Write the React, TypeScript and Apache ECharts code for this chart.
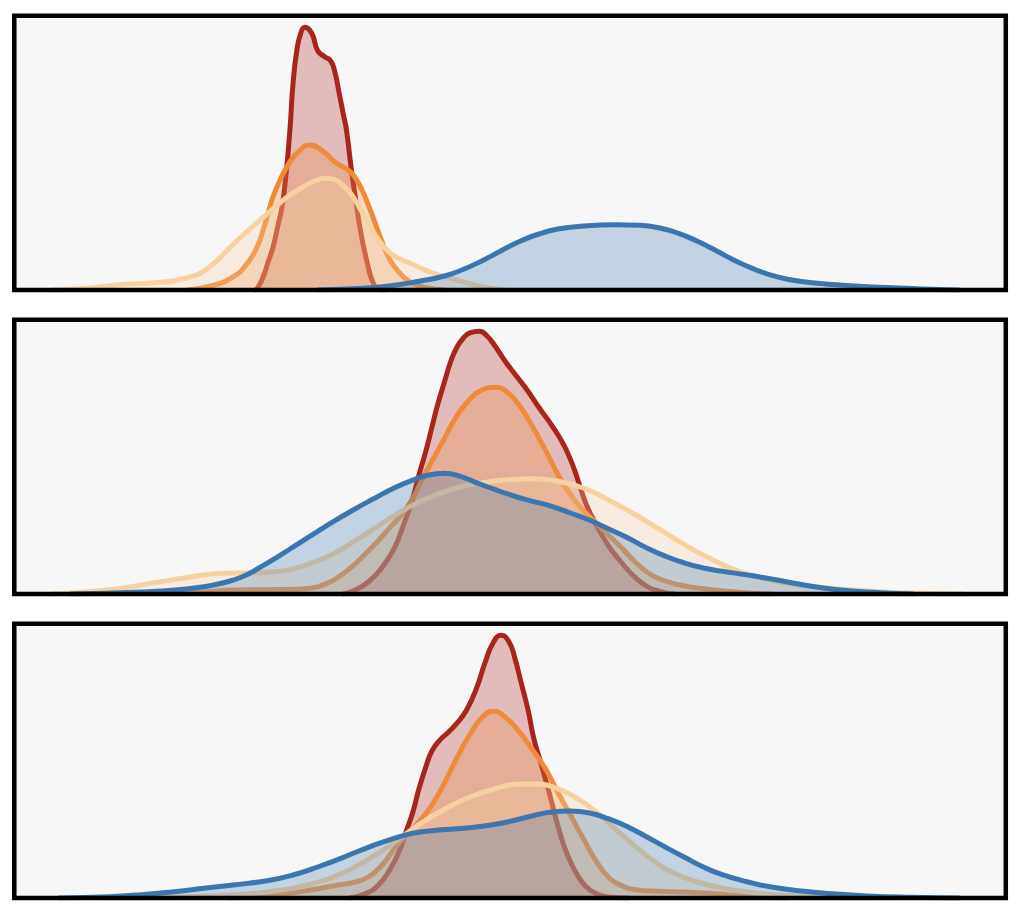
import React, { useEffect, useRef } from "react";
import * as echarts from "echarts";

// x: position along the shared axis (0–100); y: density height
const p1Red = [[24.3,0],[24.6,3],[25.1,13],[25.6,28],[26.1,43],[26.6,65],[27.0,83],[27.4,115],[27.8,160],[28.1,205],[28.5,240],[28.9,257],[29.3,262.7],[30.0,256.7],[30.6,239.3],[31.3,233.3],[31.9,229.3],[32.3,219.3],[32.8,195],[33.2,175],[33.5,160],[34.0,120],[34.4,93],[34.9,60],[35.6,27],[36.2,7],[36.8,1],[37.3,0]];
const p1Orange = [[17.5,0],[19.8,4],[22.1,13.3],[23.5,26.7],[24.5,43.3],[25.1,60],[25.6,76.7],[26.1,93.3],[26.8,110],[27.7,126.7],[28.5,136.7],[29.8,145],[31.2,138.3],[32.5,126.7],[33.9,118.3],[34.9,103.3],[35.9,80],[36.9,53.3],[37.9,30],[38.9,16.7],[39.9,8.3],[41.5,2.5],[43.5,0]];
const p1Peach = [[3.8,0],[7.7,2],[10.8,5.5],[13.7,7],[15.9,9],[17.5,12.5],[18.8,17],[20.4,29],[21.8,43],[23.3,57],[24.8,70],[26.3,83],[27.8,95],[29.3,104],[30.5,110],[31.4,111.7],[32.4,110],[33.2,104],[33.9,97],[34.9,81],[35.9,63],[36.9,48],[37.9,37],[38.9,31],[39.9,27],[41.0,22],[42.2,17],[44.0,12],[45.5,7.5],[47.2,3],[49.5,0]];
const p1Blue = [[30.6,0],[35.1,1.7],[38.3,4.7],[40.8,8.7],[43.4,14],[45.3,20.7],[47.2,29.3],[49.1,39.3],[51.0,48.7],[52.9,56],[54.8,61],[57.4,64],[60.6,65.3],[63.1,64.7],[65.1,62],[67.0,56.7],[68.9,48.7],[70.8,39.3],[72.7,29.3],[74.6,21],[76.5,14.3],[78.4,10],[80.4,7.3],[82.9,5.3],[86.1,3.3],[89.3,2],[92.5,0.7],[95.3,0]];

const p2Red = [[33.2,0],[34.4,4],[35.7,12],[37.0,25.3],[38.3,45.3],[39.2,67.7],[40.1,92.7],[40.8,118.7],[41.5,142.7],[42.1,166],[42.7,189.3],[43.4,212.7],[44.0,232],[44.6,246],[45.3,256],[46.0,261.3],[46.9,262.7],[47.7,257.7],[48.5,247.7],[49.4,234.3],[50.4,221],[51.7,204.3],[52.9,186.7],[54.2,168.7],[55.4,149.3],[56.3,129.3],[57.0,109.3],[57.7,89.3],[58.7,69.3],[59.9,48.7],[61.2,32],[62.5,17.7],[63.8,7.7],[65.1,2.7],[66.6,0]];
const p2Orange = [[15.9,0],[19.1,2],[22.3,4],[25.5,4.3],[28.1,4.7],[30.0,6],[31.6,11],[32.8,17.7],[34.1,27.7],[35.4,40],[36.7,53.3],[37.9,66.7],[39.2,81],[40.3,97.7],[41.3,117.7],[42.2,134.3],[43.4,156],[44.6,177.7],[45.9,194.3],[47.2,204.3],[48.5,206.7],[49.7,202],[51.0,187.7],[52.3,166.7],[53.6,143.3],[54.8,120],[56.1,99.3],[57.4,83.3],[58.7,71],[59.9,59.3],[61.2,46.7],[62.5,33.3],[63.8,22],[65.1,15],[67.0,9.3],[68.9,6],[71.4,3.3],[74.0,1],[76.5,0]];
const p2Peach = [[3.8,0],[9.6,4.3],[14.0,11],[17.9,17.3],[21.0,20.7],[24.2,21.3],[26.8,22.7],[29.3,28.7],[31.9,38.7],[34.4,53.3],[37.0,70],[39.5,85.3],[42.1,97.3],[44.6,106],[47.2,111.3],[49.7,114.3],[52.3,115.3],[54.8,112.7],[57.4,106],[59.9,94.3],[62.5,80],[65.1,64.7],[67.6,49.3],[70.2,35.3],[72.7,24],[75.3,16],[77.8,11],[80.4,7.7],[82.9,5.3],[86.7,2.7],[90.6,1],[95.7,0]];
const p2Blue = [[5.7,0],[12.8,2],[16.6,4.3],[19.1,7.3],[21.0,11],[23.0,17.3],[24.9,27.3],[26.8,38.7],[28.7,50.7],[30.6,62.7],[32.5,74.3],[34.4,85.3],[36.4,96],[38.3,106],[40.2,114],[41.8,119],[43.4,120.7],[45.0,117.7],[46.6,111.3],[48.5,104.3],[50.4,98],[52.3,92.7],[54.2,87.7],[56.1,81],[58.0,74],[59.9,65.3],[61.9,56],[63.8,46],[65.7,37.7],[67.6,31],[69.5,26],[71.4,22.7],[74.0,19],[76.5,14.7],[79.1,10],[81.6,6],[84.2,3.3],[87.4,1.3],[90.6,0]];

const p3Red = [[33.8,0],[35.4,4.3],[36.7,12.7],[37.9,28.7],[38.9,48.7],[39.5,66],[40.2,86],[40.8,108.7],[41.5,131],[42.1,146.7],[42.9,157.7],[43.8,166],[44.6,174.3],[45.6,187.7],[46.6,209.3],[47.5,236],[48.3,255.3],[49.1,262.7],[49.9,256],[50.5,239.3],[51.1,216],[51.8,188.7],[52.4,159.3],[53.1,135.3],[53.7,114.3],[54.3,92],[55.0,66],[55.8,42.7],[56.8,22.7],[57.7,11],[58.7,4.3],[59.9,1],[61.9,0]];
const p3Orange = [[21.7,0],[25.5,2],[28.1,5.3],[30.6,9.3],[32.5,12.7],[34.4,16],[35.7,21],[37.0,32],[38.3,48.7],[39.5,62.7],[40.8,76],[42.1,92.7],[43.4,115.3],[44.6,139.3],[45.9,162.7],[47.2,180.7],[48.3,186.7],[49.7,179.3],[51.0,165.3],[52.3,147.7],[53.6,128.7],[54.8,106],[56.1,82.7],[57.4,59.3],[58.7,36.7],[59.9,21.3],[61.2,12.7],[62.8,8],[65.1,6.7],[67.6,6],[70.2,4.7],[72.7,2.7],[75.3,0.7],[77.8,0]];
const p3Peach = [[9.6,0],[15.9,1],[22.3,3.3],[26.8,7.7],[30.0,14],[33.2,25.3],[35.7,38.7],[38.3,55.3],[40.8,73.3],[43.4,88.7],[45.9,100.7],[48.5,109.3],[51.0,114],[52.9,114],[54.8,109.3],[56.8,99.3],[58.7,86],[60.6,69.3],[62.5,52.7],[64.4,37.7],[66.3,26],[68.9,16],[71.4,10],[74.6,5.3],[77.8,2.7],[81.6,0.7],[86.1,0]];
const p3Blue = [[4.5,0],[9.6,1.3],[12.8,3.3],[15.9,6],[19.1,9.7],[22.3,13.3],[25.5,17.3],[28.1,23],[30.6,31],[33.2,40.7],[35.7,50.7],[38.3,59.7],[40.2,64.7],[42.1,67.3],[44.6,69.3],[47.2,71.7],[49.7,76],[52.3,82.3],[54.2,86],[56.1,87],[58.0,85],[59.9,79.3],[61.9,71],[63.8,61],[65.7,50.7],[67.6,40.7],[69.5,31],[71.4,23.3],[74.0,16],[76.5,10.7],[79.7,6.7],[82.9,4],[86.1,2],[90.6,0.7],[95.3,0]];

const panels = [
  [p1Red, p1Orange, p1Peach, p1Blue],
  [p2Red, p2Orange, p2Peach, p2Blue],
  [p3Red, p3Orange, p3Peach, p3Blue],
];
const colors = ["#a9251b", "#ef8a3a", "#f7d2a0", "#3b76b0"];

const X_MAX = 100;
const Y_MAX = 274.3;

export default function App() {
  const ref = useRef<HTMLDivElement>(null);
  useEffect(() => {
    if (!ref.current) return;
    const chart = echarts.init(ref.current, undefined, { renderer: "svg" });
    const tops = [15.7, 319.7, 623.7];
    const left = 14.3;
    const width = 991.5;
    const height = 274.3;
    const grids = tops.map((t) => ({
      left,
      top: t,
      width,
      height,
      show: true,
      backgroundColor: "#f7f7f7",
      borderWidth: 0,
    }));
    const xAxes = tops.map((_, i) => ({
      type: "value",
      gridIndex: i,
      min: 0,
      max: X_MAX,
      show: false,
    }));
    const yAxes = tops.map((_, i) => ({
      type: "value",
      gridIndex: i,
      min: 0,
      max: Y_MAX,
      show: false,
    }));
    const series: any[] = [];
    panels.forEach((curves, pi) => {
      curves.forEach((d, ci) => {
        series.push({
          type: "line",
          xAxisIndex: pi,
          yAxisIndex: pi,
          data: d,
          showSymbol: false,
          symbol: "none",
          smooth: 0.5,
          lineStyle: { color: colors[ci], width: 5, join: "round", cap: "round" },
          areaStyle: { color: colors[ci], opacity: 0.28 },
          z: 2 + ci,
          silent: true,
        });
      });
    });
    const frames = tops.map((t) => ({
      type: "rect",
      z: 100,
      shape: { x: left, y: t, width, height },
      style: { fill: "none", stroke: "#000", lineWidth: 4.5 },
      silent: true,
    }));
    chart.setOption({
      animation: false,
      backgroundColor: "#ffffff",
      grid: grids,
      xAxis: xAxes,
      yAxis: yAxes,
      series,
      graphic: frames,
    });
    return () => chart.dispose();
  }, []);
  return (
    <div
      ref={ref}
      style={{ position: "fixed", left: 0, top: 0, width: 1022, height: 914 }}
    />
  );
}
